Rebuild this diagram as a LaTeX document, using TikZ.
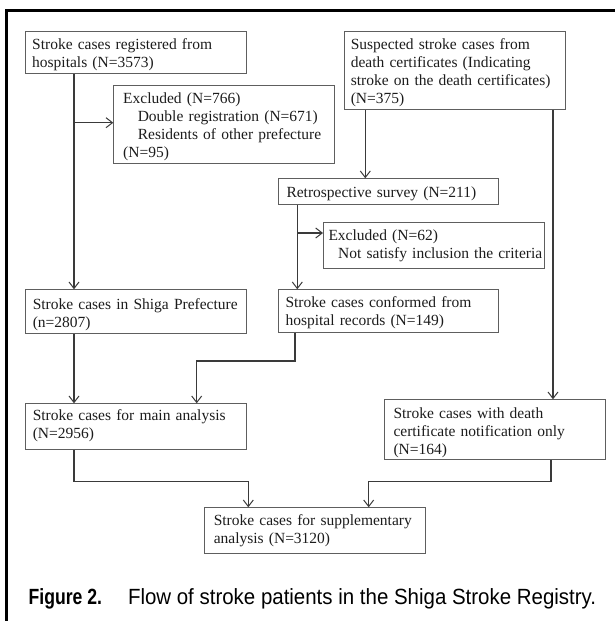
\documentclass[tikz,border=0pt]{standalone}
\usepackage{fontspec}
\setmainfont{Liberation Serif}
\newfontfamily\capfont{Liberation Sans}[FakeStretch=0.93]
\newfontfamily\capbfont{Liberation Sans Bold}[FakeStretch=0.80]
\usetikzlibrary{arrows.meta,calc}
\definecolor{bordergray}{HTML}{5E5E5E}
\definecolor{linegray}{HTML}{3A3A3A}
\definecolor{textblack}{HTML}{1C1C1C}
\newcommand{\bxt}[3]{\rule{0pt}{#1}#3\rule[-#2]{0pt}{#2}}
\newcommand{\ind}[1]{\hspace*{#1}}
\tikzset{
  fbox/.style={draw=bordergray, line width=1pt, anchor=north west, inner ysep=0pt,
    align=left, text=textblack, font=\fontsize{15.5pt}{17.9pt}\selectfont},
  arr/.style={draw=linegray, line width=1.1pt, -{Straight Barb[length=6.5pt,width=10pt,line width=1pt]}},
  conn/.style={draw=linegray, line width=1.1pt},
}
\begin{document}
\begin{tikzpicture}[x=1pt,y=-1pt]
\useasboundingbox (0,0) rectangle (614,621);
% frame
\draw[line width=3pt, line join=miter] (6.7,625) -- (6.7,10.3) -- (618,10.3);

% boxes
\node[fbox, inner xsep=6.7pt, text width=207.2pt] (A) at (25,30.7)
  {\bxt{18.3pt}{6.4pt}{Stroke cases registered from\\hospitals (N=3573)}};
\node[fbox, inner xsep=6pt, text width=208.6pt] (B) at (344.3,30.7)
  {\bxt{18.6pt}{6.3pt}{Suspected stroke cases from\\death certificates (Indicating\\\mbox{stroke on the death certificates)}\\(N=375)}};
\node[fbox, inner xsep=9.4pt, text width=201.8pt] (C) at (113.3,85)
  {\bxt{18.3pt}{6.3pt}{Excluded (N=766)\\\ind{14.6pt}\mbox{Double registration (N=671)}\\\ind{14.6pt}\mbox{Residents of other prefecture}\\(N=95)}};
\node[fbox, inner xsep=8.3pt, text width=204pt] (D) at (277.7,178.3)
  {\bxt{18.4pt}{7.6pt}{Retrospective survey (N=211)}};
\node[fbox, inner xsep=5pt, text width=210.6pt] (E) at (323,221.7)
  {\bxt{18.3pt}{10.4pt}{Excluded (N=62)\\\ind{9.7pt}\mbox{Not satisfy inclusion the criteria}}};
\node[fbox, inner xsep=7.3pt, text width=206pt] (Shiga) at (25,289.3)
  {\bxt{19.5pt}{6.6pt}{Stroke cases in Shiga Prefecture\\(n=2807)}};
\node[fbox, inner xsep=7.3pt, text width=206pt] (Conf) at (277.7,289.3)
  {\bxt{17.4pt}{7.1pt}{Stroke cases conformed from\\hospital records (N=149)}};
\node[fbox, inner xsep=7.3pt, text width=206pt] (Main) at (25,403.3)
  {\bxt{17pt}{11.1pt}{Stroke cases for main analysis\\(N=2956)}};
\node[fbox, inner xsep=8.7pt, text width=203.2pt] (Death) at (384.3,399.3)
  {\bxt{19pt}{4.9pt}{Stroke cases with death\\certificate notification only\\(N=164)}};
\node[fbox, inner xsep=9.3pt, text width=202pt] (Supp) at (204,507.3)
  {\bxt{17.7pt}{9.8pt}{Stroke cases for supplementary\\analysis (N=3120)}};

% junction coordinates
\coordinate (aA) at ($(A.south west)+(49,0)$);
\coordinate (j1) at ($(A.south west)+(49,48.4)$);
\coordinate (bB) at ($(B.south west)+(21,0)$);
\coordinate (bR) at ($(B.south east)+(-12.9,0)$);
\coordinate (dD) at ($(D.south west)+(19.6,0)$);
\coordinate (j2) at ($(D.south west)+(19.6,27.7)$);
\coordinate (cC) at ($(Conf.south west)+(17.3,0)$);
\coordinate (k1) at ($(Main.north west)+(171.7,-42.3)$);
\coordinate (sS) at ($(Shiga.south west)+(49,0)$);
\coordinate (mM) at ($(Main.south west)+(49,0)$);
\coordinate (k2) at ($(Supp.north west)+(44.3,-25.6)$);
\coordinate (dT) at ($(Death.south west)+(166.7,0)$);
\coordinate (k3) at ($(Supp.north west)+(164.7,-25.6)$);

% connectors
\draw[arr] (aA) -- (aA |- Shiga.north);
\draw[arr] (j1) -- (j1 -| C.west);
\draw[arr] (bB) -- (bB |- D.north);
\draw[arr] (bR) -- (bR |- Death.north);
\draw[arr] (dD) -- (dD |- Conf.north);
\draw[arr] (j2) -- (j2 -| E.west);
\draw[arr] (cC) |- (k1) -- (k1 |- Main.north);
\draw[arr] (sS) -- (sS |- Main.north);
\draw[arr] (mM) |- (k2) -- (k2 |- Supp.north);
\draw[arr] (dT) |- (k3) -- (k3 |- Supp.north);

% caption
\node[anchor=base west, inner sep=0pt, font=\capbfont\fontsize{22pt}{26pt}\selectfont] (figlab) at (28.5,604) {Figure 2.};
\node[anchor=base west, inner sep=0pt, font=\capfont\fontsize{22pt}{26pt}\selectfont] (figcap) at (127.8,604) {Flow of stroke patients in the Shiga Stroke Registry.};
\end{tikzpicture}
\end{document}
